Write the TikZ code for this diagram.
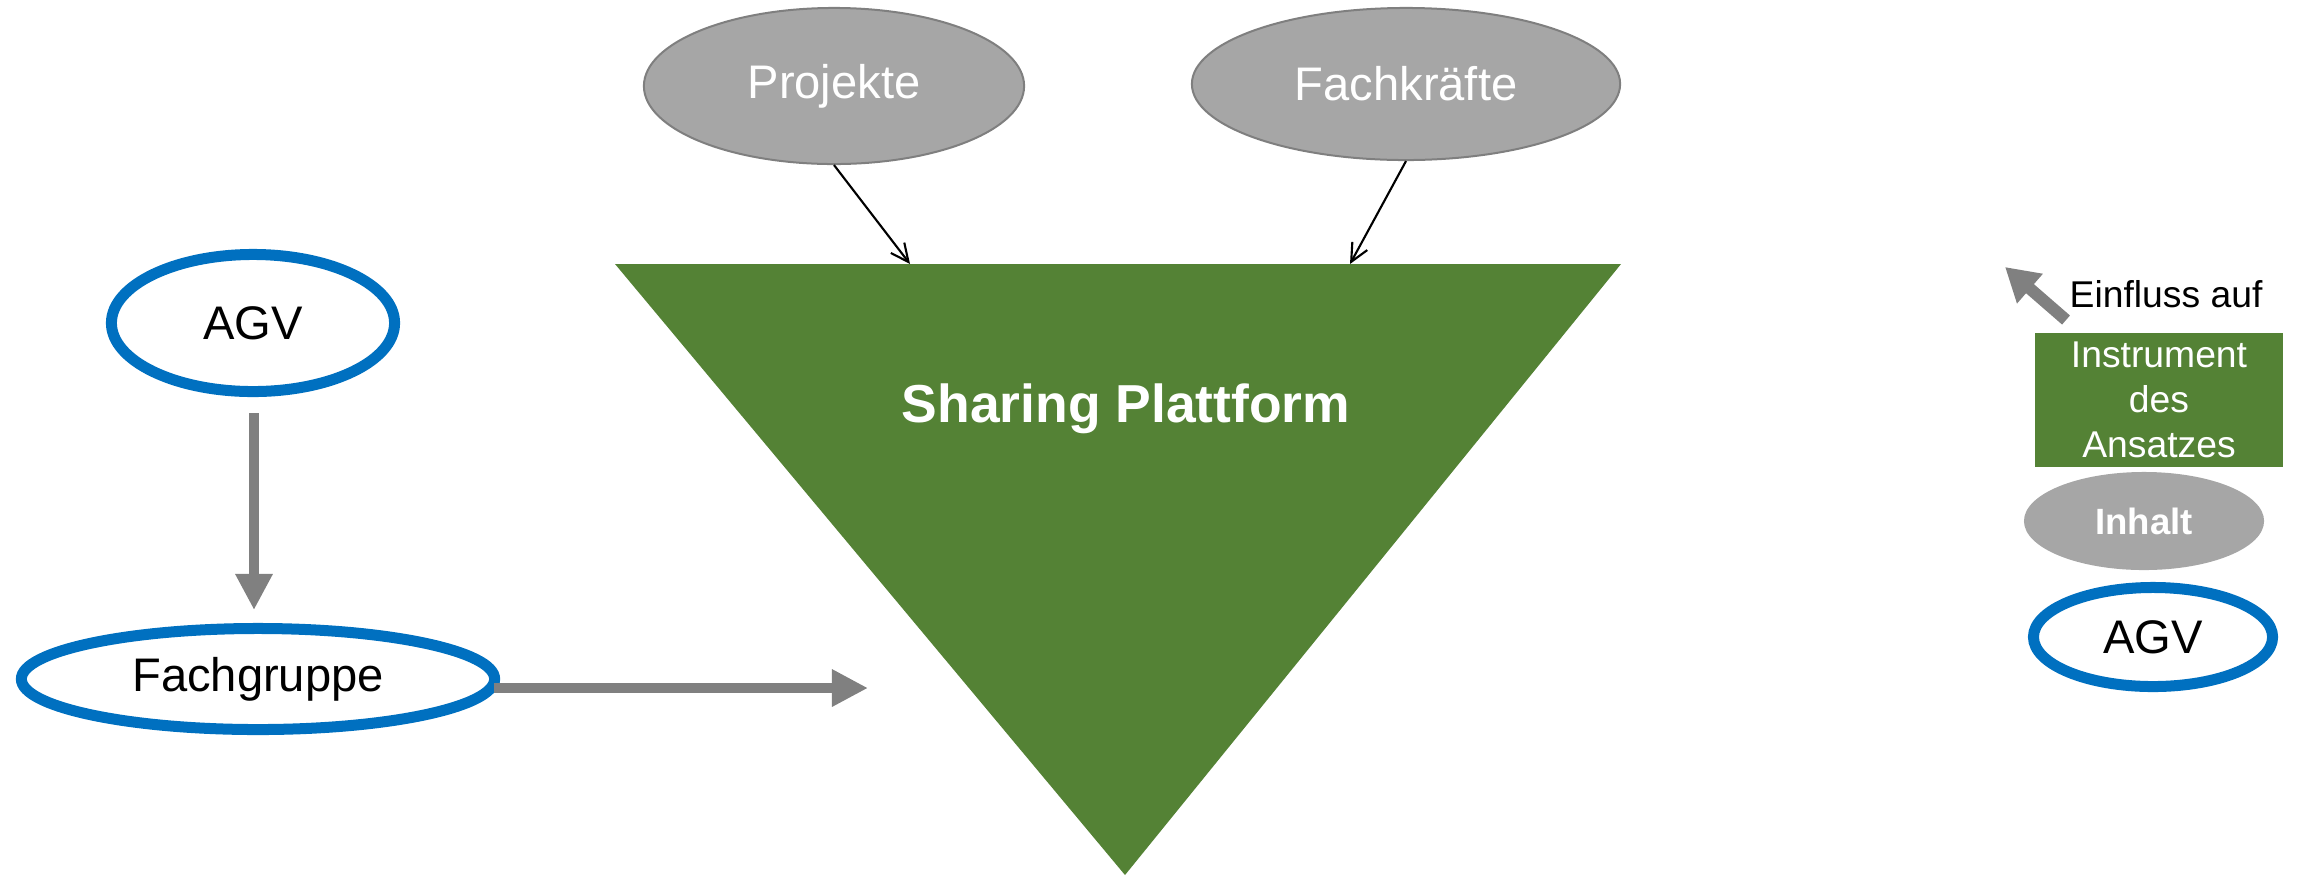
\documentclass[tikz,border=0pt]{standalone}
\usepackage{fontspec}
\setmainfont{Liberation Sans}
\usetikzlibrary{shapes.geometric,arrows.meta}
\definecolor{pgreen}{HTML}{548235}
\definecolor{pblue}{HTML}{0070C0}
\definecolor{pgray}{HTML}{A6A6A6}
\definecolor{pgrayline}{HTML}{7F7F7F}
\definecolor{parrow}{HTML}{808080}
\begin{document}
\begin{tikzpicture}[x=0.01cm,y=-0.01cm,
  mainfont/.style={font=\fontsize{13.4pt}{16pt}\selectfont},
  smallfont/.style={font=\fontsize{10.6pt}{12.8pt}\selectfont},
  grayell/.style={ellipse,fill=pgray,draw=pgrayline,line width=0.02cm,inner sep=0pt,text=white,mainfont},
  blueell/.style={ellipse,fill=white,draw=pblue,line width=0.11cm,inner sep=0pt,text=black,mainfont},
  thinarrow/.style={draw=black,line width=0.6pt,-{Straight Barb[length=0.18cm,width=0.17cm]}},
  fatarrow/.style={draw=parrow,line width=0.1cm,-{Triangle[length=0.36cm,width=0.35cm]}},
  legarrow/.style={draw=parrow,line width=0.12cm,-{Triangle[length=0.33cm,width=0.37cm]}}
]
\useasboundingbox (0,0) rectangle (2298,875);
% triangle
\fill[pgreen] (615,264) coordinate (tl) -- (1621,264) coordinate (tr) -- (1125,875) coordinate (tb) -- cycle;
\node[anchor=base,inner sep=0pt,text=white,font=\bfseries\fontsize{15.2pt}{18pt}\selectfont] (title) at (1126,422) {Sharing Plattform};
% top ellipses
\node[grayell,minimum width=3.8cm,minimum height=1.56cm] (proj) at (834,86) {Projekte};
\node[grayell,minimum width=4.28cm,minimum height=1.52cm] (fk) at (1406,84) {Fachkräfte};
\coordinate (pend) at (910,264);
\coordinate (fend) at (1350,264);
\draw[thinarrow] (proj.south) -- (pend);
\draw[thinarrow] (fk.south) -- (fend);
% left side
\node[blueell,minimum width=2.83cm,minimum height=1.37cm] (agv) at (253,323) {AGV};
\node[blueell,minimum width=4.73cm,minimum height=1.01cm] (fach) at (258,679) {Fachgruppe};
\coordinate (agvtip) at (254,610);
\draw[fatarrow,shorten <=0.16cm] (agv.south -| agvtip) -- (agvtip);
\coordinate (fachtip) at (868,688);
\draw[fatarrow] ([xshift=-0.06cm]fach.east |- fachtip) -- (fachtip);
% legend
\coordinate (legtail) at (2066,320);
\coordinate (legtip) at (2005,267);
\draw[legarrow] (legtail) -- (legtip);
\node[anchor=base west,smallfont,inner sep=0pt] (einfl) at (2069,307) {Einfluss auf};
\node[fill=pgreen,minimum width=2.48cm,minimum height=1.33cm,inner sep=0pt,text=white,smallfont,align=center] (instr) at (2159,400) {Instrument\\des\\Ansatzes};
\node[ellipse,fill=pgray,minimum width=2.4cm,minimum height=0.98cm,inner sep=0pt,text=white,font=\bfseries\fontsize{10.4pt}{12.5pt}\selectfont] (inhalt) at (2144,521) {Inhalt};
\node[blueell,minimum width=2.39cm,minimum height=0.99cm] (agvleg) at (2153,637) {AGV};
\end{tikzpicture}
\end{document}
